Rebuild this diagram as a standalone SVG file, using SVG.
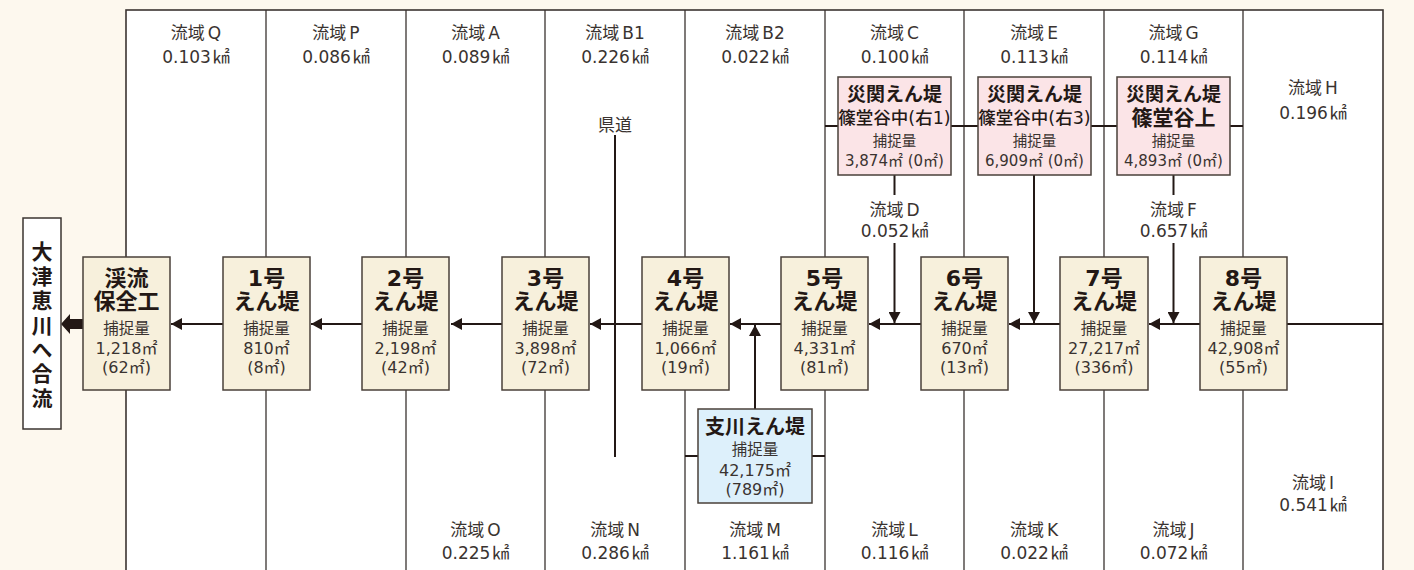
<svg xmlns="http://www.w3.org/2000/svg" width="1414" height="570" viewBox="0 0 1414 570">
<defs>
<style>
.bg{fill:#fdf8ee}
.panel{fill:#fff;stroke:#3b3431;stroke-width:1.6}
.dv{stroke:#3b3431;stroke-width:1.3;fill:none}
.fl{stroke:#231815;stroke-width:2;fill:none}
.box{fill:#f7f0dc;stroke:#4a403a;stroke-width:1.5}
.pink{fill:#fbe4e7;stroke:#4a403a;stroke-width:1.5}
.blue{fill:#ddf0fb;stroke:#4a403a;stroke-width:1.5}
.out{fill:#fff;stroke:#3b3431;stroke-width:1.5}
text{font-family:"DejaVu Sans","Noto Sans CJK JP",sans-serif;fill:#3a3330;text-anchor:middle}
.lb{font-size:17px}
.t1{font-size:22px;font-weight:700;fill:#231815}
.cap{font-size:15.5px;font-family:"Noto Sans CJK JP",sans-serif}
.num{font-size:16px}
.pt{font-size:19px;font-weight:700;fill:#231815}
.ps{font-size:17.5px;font-weight:500;fill:#231815}
.pn{font-size:15px}
.vt{font-size:21px;font-weight:700;fill:#231815;font-family:"Noto Sans CJK JP",sans-serif;letter-spacing:3.4px}
</style>
<marker id="ah" markerUnits="userSpaceOnUse" markerWidth="12" markerHeight="12" refX="11" refY="6" orient="auto">
<path d="M0,0 L11,6 L0,12 z" fill="#231815"/>
</marker>
</defs>
<rect class="bg" x="0" y="0" width="1414" height="570"/>
<rect class="panel" x="126" y="10" width="1257" height="580"/>

<g id="dividers">
<path class="dv" d="M266,10V570M406,10V570M545,10V570M685,10V570M825,10V570M964,10V570M1104,10V570M1243,10V570"/>
</g>

<g id="connectors">
<line class="fl" x1="1383" y1="324" x2="1287" y2="324"/>
<line class="fl" x1="1200" y1="324" x2="1149" y2="324" marker-end="url(#ah)"/>
<line class="fl" x1="1060" y1="324" x2="1009" y2="324" marker-end="url(#ah)"/>
<line class="fl" x1="921" y1="324" x2="869" y2="324" marker-end="url(#ah)"/>
<line class="fl" x1="781" y1="324" x2="730" y2="324" marker-end="url(#ah)"/>
<line class="fl" x1="642" y1="324" x2="590" y2="324" marker-end="url(#ah)"/>
<line class="fl" x1="502" y1="324" x2="451" y2="324" marker-end="url(#ah)"/>
<line class="fl" x1="362" y1="324" x2="311" y2="324" marker-end="url(#ah)"/>
<line class="fl" x1="223" y1="324" x2="171" y2="324" marker-end="url(#ah)"/>
<polygon points="84,319 70,319 70,314 61,324 70,334 70,329 84,329" fill="#231815"/>
<path class="fl" d="M825,126H838M951,126H964M964,126H978M1091,126H1104M1104,126H1117M1230,126H1243"/>
<line class="fl" x1="894.5" y1="175" x2="894.5" y2="195"/>
<line class="fl" x1="894.5" y1="243" x2="894.5" y2="323" marker-end="url(#ah)"/>
<line class="fl" x1="1034" y1="175" x2="1034" y2="323" marker-end="url(#ah)"/>
<line class="fl" x1="1173.5" y1="175" x2="1173.5" y2="195"/>
<line class="fl" x1="1173.5" y1="243" x2="1173.5" y2="323" marker-end="url(#ah)"/>
<line class="fl" x1="615" y1="135" x2="615" y2="457"/>
<path class="fl" d="M685,456H698M812,456H825"/>
<line class="fl" x1="755" y1="409" x2="755" y2="325" marker-end="url(#ah)"/>
</g>

<g id="labels">
<text class="lb" x="196" y="39">流域<tspan dx="3">Q</tspan></text><text class="lb" x="196" y="63">0.103<tspan dx="2">㎢</tspan></text>
<text class="lb" x="336" y="39">流域<tspan dx="3">P</tspan></text><text class="lb" x="336" y="63">0.086<tspan dx="2">㎢</tspan></text>
<text class="lb" x="475.5" y="39">流域<tspan dx="3">A</tspan></text><text class="lb" x="475.5" y="63">0.089<tspan dx="2">㎢</tspan></text>
<text class="lb" x="615" y="39">流域<tspan dx="3">B1</tspan></text><text class="lb" x="615" y="63">0.226<tspan dx="2">㎢</tspan></text>
<text class="lb" x="755" y="39">流域<tspan dx="3">B2</tspan></text><text class="lb" x="755" y="63">0.022<tspan dx="2">㎢</tspan></text>
<text class="lb" x="894.5" y="39">流域<tspan dx="3">C</tspan></text><text class="lb" x="894.5" y="63">0.100<tspan dx="2">㎢</tspan></text>
<text class="lb" x="1034" y="39">流域<tspan dx="3">E</tspan></text><text class="lb" x="1034" y="63">0.113<tspan dx="2">㎢</tspan></text>
<text class="lb" x="1173.5" y="39">流域<tspan dx="3">G</tspan></text><text class="lb" x="1173.5" y="63">0.114<tspan dx="2">㎢</tspan></text>
<text class="lb" x="1313" y="94">流域<tspan dx="3">H</tspan></text><text class="lb" x="1313" y="119">0.196<tspan dx="2">㎢</tspan></text>
<text class="lb" x="894.5" y="216">流域<tspan dx="3">D</tspan></text><text class="lb" x="894.5" y="237">0.052<tspan dx="2">㎢</tspan></text>
<text class="lb" x="1173.5" y="216">流域<tspan dx="3">F</tspan></text><text class="lb" x="1173.5" y="237">0.657<tspan dx="2">㎢</tspan></text>
<text class="lb" x="615" y="131">県道</text>
<text class="lb" x="1313" y="489">流域<tspan dx="3">I</tspan></text><text class="lb" x="1313" y="511">0.541<tspan dx="2">㎢</tspan></text>
<text class="lb" x="475.5" y="536">流域<tspan dx="3">O</tspan></text><text class="lb" x="475.5" y="559">0.225<tspan dx="2">㎢</tspan></text>
<text class="lb" x="615" y="536">流域<tspan dx="3">N</tspan></text><text class="lb" x="615" y="559">0.286<tspan dx="2">㎢</tspan></text>
<text class="lb" x="755" y="536">流域<tspan dx="3">M</tspan></text><text class="lb" x="755" y="559">1.161<tspan dx="2">㎢</tspan></text>
<text class="lb" x="894.5" y="536">流域<tspan dx="3">L</tspan></text><text class="lb" x="894.5" y="559">0.116<tspan dx="2">㎢</tspan></text>
<text class="lb" x="1034" y="536">流域<tspan dx="3">K</tspan></text><text class="lb" x="1034" y="559">0.022<tspan dx="2">㎢</tspan></text>
<text class="lb" x="1173.5" y="536">流域<tspan dx="3">J</tspan></text><text class="lb" x="1173.5" y="559">0.072<tspan dx="2">㎢</tspan></text>
</g>

<g id="outlet">
<rect class="out" x="23" y="218" width="38" height="211"/>
<text class="vt" x="42" y="241" writing-mode="vertical-rl" style="text-anchor:start">大津恵川へ合流</text>
</g>

<g id="keiryu">
<rect class="box" x="83" y="257" width="87" height="133"/>
<text class="t1"><tspan x="126.5" y="286">渓流</tspan><tspan x="126.5" y="309">保全工</tspan></text>
<text class="cap" x="126.5" y="334">捕捉量</text>
<text class="num"><tspan x="126.5" y="354">1,218㎡</tspan><tspan x="126.5" y="373">(62㎡)</tspan></text>
</g>
<g id="dam1">
<rect class="box" x="223" y="257" width="87" height="133"/>
<text class="t1"><tspan x="266.5" y="286">1号</tspan><tspan x="266.5" y="309">えん堤</tspan></text>
<text class="cap" x="266.5" y="334">捕捉量</text><text class="num"><tspan x="266.5" y="354">810㎡</tspan><tspan x="266.5" y="373">(8㎡)</tspan></text>
</g>
<g id="dam2">
<rect class="box" x="362" y="257" width="87" height="133"/>
<text class="t1"><tspan x="405.5" y="286">2号</tspan><tspan x="405.5" y="309">えん堤</tspan></text>
<text class="cap" x="405.5" y="334">捕捉量</text><text class="num"><tspan x="405.5" y="354">2,198㎡</tspan><tspan x="405.5" y="373">(42㎡)</tspan></text>
</g>
<g id="dam3">
<rect class="box" x="502" y="257" width="87" height="133"/>
<text class="t1"><tspan x="545.5" y="286">3号</tspan><tspan x="545.5" y="309">えん堤</tspan></text>
<text class="cap" x="545.5" y="334">捕捉量</text><text class="num"><tspan x="545.5" y="354">3,898㎡</tspan><tspan x="545.5" y="373">(72㎡)</tspan></text>
</g>
<g id="dam4">
<rect class="box" x="642" y="257" width="87" height="133"/>
<text class="t1"><tspan x="685.5" y="286">4号</tspan><tspan x="685.5" y="309">えん堤</tspan></text>
<text class="cap" x="685.5" y="334">捕捉量</text><text class="num"><tspan x="685.5" y="354">1,066㎡</tspan><tspan x="685.5" y="373">(19㎡)</tspan></text>
</g>
<g id="dam5">
<rect class="box" x="781" y="257" width="87" height="133"/>
<text class="t1"><tspan x="824.5" y="286">5号</tspan><tspan x="824.5" y="309">えん堤</tspan></text>
<text class="cap" x="824.5" y="334">捕捉量</text><text class="num"><tspan x="824.5" y="354">4,331㎡</tspan><tspan x="824.5" y="373">(81㎡)</tspan></text>
</g>
<g id="dam6">
<rect class="box" x="921" y="257" width="87" height="133"/>
<text class="t1"><tspan x="964.5" y="286">6号</tspan><tspan x="964.5" y="309">えん堤</tspan></text>
<text class="cap" x="964.5" y="334">捕捉量</text><text class="num"><tspan x="964.5" y="354">670㎡</tspan><tspan x="964.5" y="373">(13㎡)</tspan></text>
</g>
<g id="dam7">
<rect class="box" x="1060" y="257" width="88" height="133"/>
<text class="t1"><tspan x="1104" y="286">7号</tspan><tspan x="1104" y="309">えん堤</tspan></text>
<text class="cap" x="1104" y="334">捕捉量</text><text class="num"><tspan x="1104" y="354">27,217㎡</tspan><tspan x="1104" y="373">(336㎡)</tspan></text>
</g>
<g id="dam8">
<rect class="box" x="1200" y="257" width="87" height="133"/>
<text class="t1"><tspan x="1243.5" y="286">8号</tspan><tspan x="1243.5" y="309">えん堤</tspan></text>
<text class="cap" x="1243.5" y="334">捕捉量</text><text class="num"><tspan x="1243.5" y="354">42,908㎡</tspan><tspan x="1243.5" y="373">(55㎡)</tspan></text>
</g>

<g id="saikan1">
<rect class="pink" x="838" y="77" width="113" height="98"/>
<text class="pt" x="894.5" y="101">災関えん堤</text>
<text class="ps" x="894.5" y="124">篠堂谷中(右1)</text>
<text class="cap" x="894.5" y="146" style="font-size:14.5px">捕捉量</text>
<text class="pn" x="894.5" y="166">3,874㎡ (0㎡)</text>
</g>
<g id="saikan3">
<rect class="pink" x="978" y="77" width="113" height="98"/>
<text class="pt" x="1034.5" y="101">災関えん堤</text>
<text class="ps" x="1034.5" y="124">篠堂谷中(右3)</text>
<text class="cap" x="1034.5" y="146" style="font-size:14.5px">捕捉量</text>
<text class="pn" x="1034.5" y="166">6,909㎡ (0㎡)</text>
</g>
<g id="saikanUe">
<rect class="pink" x="1117" y="77" width="113" height="98"/>
<text class="pt" x="1173.5" y="101">災関えん堤</text>
<text class="pt" x="1173.5" y="125" style="font-size:21px">篠堂谷上</text>
<text class="cap" x="1173.5" y="146" style="font-size:14.5px">捕捉量</text>
<text class="pn" x="1173.5" y="166">4,893㎡ (0㎡)</text>
</g>

<g id="shisen">
<rect class="blue" x="698" y="409" width="114" height="94"/>
<text class="pt" x="755" y="434" style="font-size:20px">支川えん堤</text>
<text class="cap" x="755" y="455">捕捉量</text>
<text class="num"><tspan x="755" y="476">42,175㎡</tspan><tspan x="755" y="495">(789㎡)</tspan></text>
</g>
</svg>
